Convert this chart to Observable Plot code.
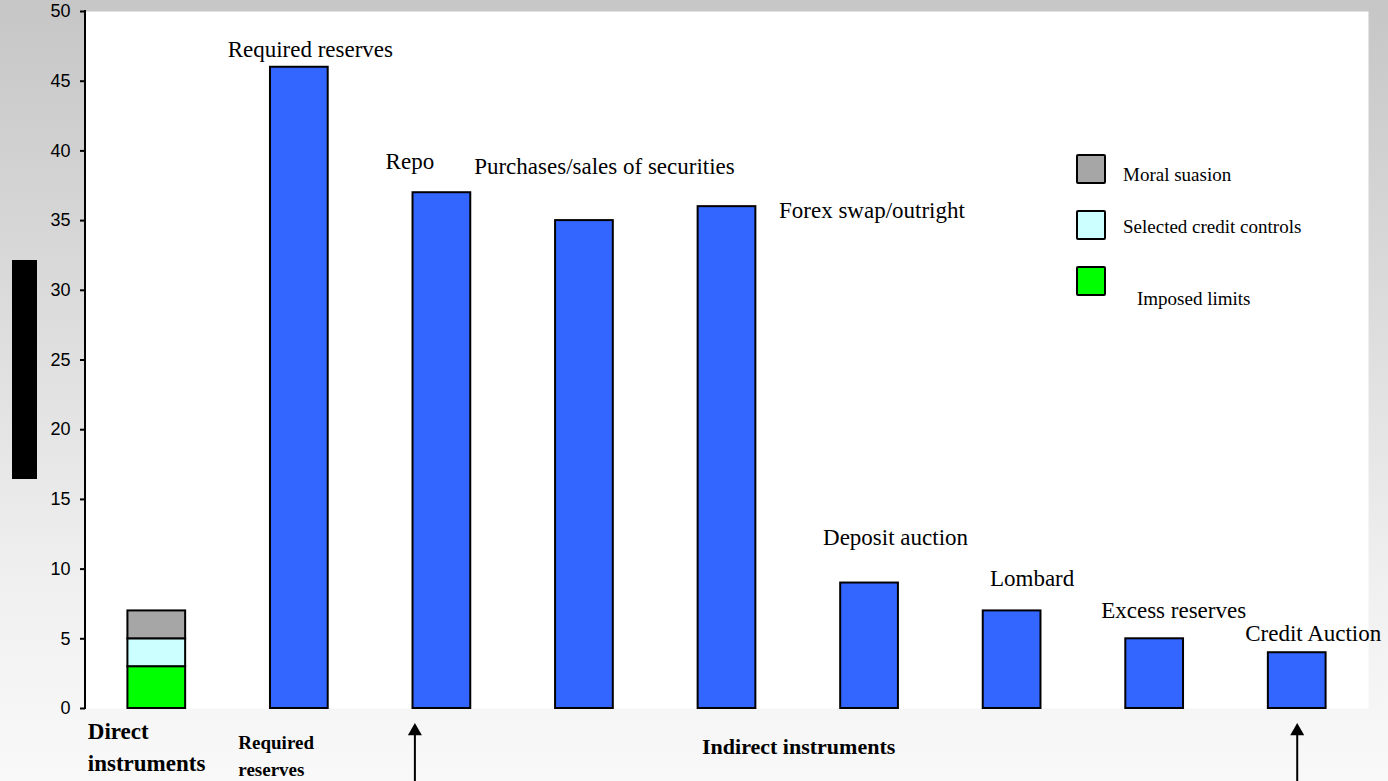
<!DOCTYPE html>
<html>
<head>
<meta charset="utf-8">
<script src="https://cdn.jsdelivr.net/npm/d3@7"></script>
<script src="https://cdn.jsdelivr.net/npm/@observablehq/plot@0.6"></script>
<style>
  html, body { margin: 0; padding: 0; }
  body {
    width: 1388px; height: 781px; overflow: hidden;
    background: linear-gradient(to bottom, #c6c6c6 0%, #dcdcdc 40%, #f0f0f0 75%, #f9f9f9 100%);
  }
  #wrap { position: relative; width: 1388px; height: 781px; }
  #chart { position: absolute; left: 0; top: 0; }
  #chart svg { background: transparent !important; overflow: visible; }
  .blackbar { position: absolute; left: 12px; top: 260px; width: 25px; height: 219px; background: #000; }
  .key { position: absolute; font-family: "Liberation Serif", "Times New Roman", serif; font-size: 19px; line-height: 19px; color: #000; white-space: nowrap; }
  .swatch { position: absolute; width: 26px; height: 26px; border: 2px solid #000; border-radius: 2px; }
</style>
</head>
<body>
<div id="wrap">
  <div class="blackbar"></div>
  <div id="chart"></div>
  <div id="legend"></div>
</div>
<script>
// Number of countries using each monetary policy instrument
const directKey = "Direct";
const instrumentNames = [
  "Required reserves", "Repo", "Purchases/sales of securities", "Forex swap/outright",
  "Deposit auction", "Lombard", "Excess reserves", "Credit Auction"
];
const instrumentCounts = [46, 37, 35, 36, 9, 7, 5, 4];

// The direct-instrument bar is split into three kinds (bottom to top)
const directParts = ["Imposed limits", "Selected credit controls", "Moral suasion"];
const directCounts = [3, 2, 2];

const yTicks = [0, 5, 10, 15, 20, 25, 30, 35, 40, 45, 50];

// styling
const partColors = ["#00ff00", "#ccffff", "#a6a6a6"];
const barBlue = "#3366ff";
const serif = "Liberation Serif, Times New Roman, serif";

const instruments = instrumentNames.map((name, i) => ({name, count: instrumentCounts[i]}));
const direct = directParts.map((part, i) => ({key: directKey, part, count: directCounts[i]}));

// where each bar's name sits (baseline) relative to the top of its bar: [dx, dy, anchor]
const labelNudge = {
  "Required reserves": [11, -10, "middle"],
  "Repo": [-32, -24, "middle"],
  "Purchases/sales of securities": [20, -47, "middle"],
  "Forex swap/outright": [52, 11, "start"],
  "Deposit auction": [26, -38, "middle"],
  "Lombard": [20, -25, "middle"],
  "Excess reserves": [19, -21, "middle"],
  "Credit Auction": [16, -12, "middle"]
};

const labelMarks = instruments.map(d => {
  const [dx, dy, anchor] = labelNudge[d.name];
  return Plot.text([d], {
    x: "name", y: "count", text: "name", dx, dy, textAnchor: anchor, lineAnchor: "bottom",
    fontFamily: serif, fontSize: 23, fill: "black"
  });
});

const arrowSpots = [
  {at: "Repo", dx: -27},
  {at: "Credit Auction", dx: 0}
];

const chart = Plot.plot({
  width: 1388,
  height: 781,
  marginLeft: 85,
  marginRight: 20,
  marginTop: 11,
  marginBottom: 73,
  style: {background: "transparent", fontFamily: "Liberation Sans, Arial, sans-serif", fontSize: "18px", color: "black"},
  x: {domain: [directKey, ...instrumentNames], paddingInner: 0.595, paddingOuter: 0.2975, round: false, axis: null},
  y: {domain: [0, 50], ticks: yTicks, tickSize: 5, tickPadding: 10, label: null, tickFormat: d => String(d)},
  color: {domain: directParts, range: partColors},
  marks: [
    Plot.frame({fill: "white", stroke: "none"}),
    Plot.barY(direct, {x: "key", y: "count", fill: "part", stroke: "black", strokeWidth: 2}),
    Plot.barY(instruments, {x: "name", y: "count", fill: barBlue, stroke: "black", strokeWidth: 2}),
    ...labelMarks,
    // group captions under the bars
    Plot.text([{k: directKey, t: "Direct\ninstruments"}], {
      x: "k", y: () => 0, text: "t", textAnchor: "start", lineAnchor: "bottom", dx: -69, dy: 62,
      lineHeight: 1.39, fontFamily: serif, fontWeight: "bold", fontSize: 23, fill: "black"
    }),
    Plot.text([{k: "Required reserves", t: "Required\nreserves"}], {
      x: "k", y: () => 0, text: "t", textAnchor: "start", lineAnchor: "bottom", dx: -61, dy: 67,
      lineHeight: 1.37, fontFamily: serif, fontWeight: "bold", fontSize: 19, fill: "black"
    }),
    Plot.text([{k: "Forex swap/outright", t: "Indirect instruments"}], {
      x: "k", y: () => 0, text: "t", textAnchor: "start", lineAnchor: "bottom", dx: -25, dy: 45,
      fontFamily: serif, fontWeight: "bold", fontSize: 22, fill: "black"
    }),
    // arrows pointing up from below the axis
    ...arrowSpots.map(a => Plot.ruleX([a], {x: "at", y1: -1.5, y2: -5.5, dx: a.dx, stroke: "black", strokeWidth: 2})),
    ...arrowSpots.map(a => Plot.dot([a], {x: "at", y: () => -1.62, dx: a.dx, symbol: "triangle", r: 5.2, fill: "black", stroke: "none"}))
  ]
});

document.getElementById("chart").appendChild(chart);

// draw the left axis line and thicken the ticks
const svg = d3.select(chart);
const [y0, y1] = chart.scale("y").range;
svg.append("line")
  .attr("x1", 85).attr("x2", 85)
  .attr("y1", Math.max(y0, y1) + 1).attr("y2", Math.min(y0, y1) - 1)
  .attr("stroke", "black").attr("stroke-width", 2);
svg.selectAll('g[aria-label="y-axis"] line, g[aria-label="y-axis tick"] path, g[aria-label="y-axis"] path')
  .attr("stroke-width", 2);

// legend for the three direct-instrument kinds
const legend = document.getElementById("legend");
const legendRows = [
  {part: "Moral suasion", top: 154, textTop: 165, textLeft: 1123},
  {part: "Selected credit controls", top: 210, textTop: 217, textLeft: 1123},
  {part: "Imposed limits", top: 266, textTop: 289, textLeft: 1137}
];
legendRows.forEach(r => {
  const sw = document.createElement("div");
  sw.className = "swatch";
  sw.style.left = "1076px";
  sw.style.top = r.top + "px";
  sw.style.background = partColors[directParts.indexOf(r.part)];
  legend.appendChild(sw);
  const tx = document.createElement("div");
  tx.className = "key";
  tx.style.left = r.textLeft + "px";
  tx.style.top = r.textTop + "px";
  tx.textContent = r.part;
  legend.appendChild(tx);
});
</script>
</body>
</html>
